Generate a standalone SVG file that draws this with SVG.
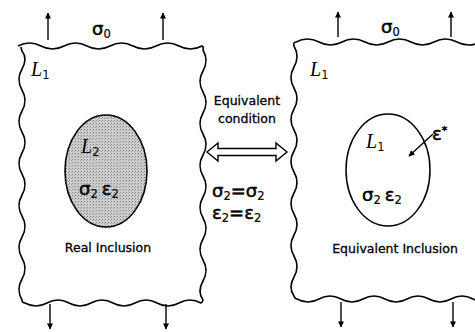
<svg xmlns="http://www.w3.org/2000/svg" width="475" height="332" viewBox="0 0 475 332">
<defs>
<marker id="ah" viewBox="0 0 10 10" refX="9" refY="5" markerWidth="8" markerHeight="6" orient="auto" markerUnits="userSpaceOnUse">
<path d="M0,0 L10,5 L0,10 Z" fill="#000"/>
</marker>
<pattern id="stip" width="3" height="3" patternUnits="userSpaceOnUse">
<rect width="3" height="3" fill="#cfcfcf"/>
<rect x="0" y="0" width="1" height="1" fill="#7a7a7a"/>
<rect x="2" y="1" width="1" height="1" fill="#a0a0a0"/>
</pattern>
</defs>
<style>
.edge{fill:none;stroke:#000;stroke-width:1.6}
.arr{stroke:#000;stroke-width:1.4;fill:none;marker-end:url(#ah)}
.lbl{font-family:"DejaVu Sans",sans-serif;font-size:12.5px;fill:#000;stroke:#000;stroke-width:0.3}
.mi{font-family:"Liberation Serif",serif;font-style:italic;font-size:20px;fill:#000}
.gr{font-family:"DejaVu Sans",sans-serif;font-size:18px;fill:#000;stroke:#000;stroke-width:0.5}
.sub{font-size:11.5px;font-style:normal;font-family:"DejaVu Sans",sans-serif;stroke-width:0.2}
</style>
<rect width="475" height="332" fill="#fff"/>

<g id="left-panel">
<path class="edge" d="M18,46 q11.5,-6 23,0 t23,0 t23,0 t23,0 t23,0 t23,0 t23,0 t23,0 q2,1 1,4 q6,10.5 0,21 t0,21 t0,21 t0,21 t0,21 t0,21 t0,21 t0,21 t0,21 t0,21 t0,21 t0,19 q-1,3 -2,3 q-11,-6 -22,0 t-22,0 t-22,0 t-22,0 t-22,0 t-22,0 t-22,0 t-22,0 q-3,0 -3,-3 q-6,-10.5 0,-21 t0,-21 t0,-21 t0,-21 t0,-21 t0,-21 t0,-21 t0,-21 t0,-21 t0,-21 t0,-21 t0,-18 q-1,-3 -1,-4"/>
<text class="mi" x="31" y="76">L<tspan class="sub" dy="3">1</tspan></text>
<text class="gr" x="92" y="35">σ<tspan class="sub" dy="3">0</tspan></text>
</g>

<g id="real-inclusion">
<ellipse cx="106" cy="171" rx="41" ry="56" fill="url(#stip)" stroke="#000" stroke-width="1.6"/>
<text class="mi" x="81" y="153">L<tspan class="sub" dy="3">2</tspan></text>
<text class="gr" x="79" y="195">σ<tspan class="sub" dy="3">2</tspan><tspan dy="-3" dx="4">ε</tspan><tspan class="sub" dy="3">2</tspan></text>
<text class="lbl" x="108" y="252" text-anchor="middle">Real Inclusion</text>
</g>

<g id="right-panel">
<path class="edge" d="M480,42 q-11.5,6 -23,0 t-23,0 t-23,0 t-23,0 t-23,0 t-23,0 t-23,0 t-23,0 q-3,0 -2,4 q6,10.5 0,21 t0,21 t0,21 t0,21 t0,21 t0,21 t0,21 t0,21 t0,21 t0,21 t0,21 t0,19 q1,3 3,3 q11,6 22,0 t22,0 t22,0 t22,0 t22,0 t22,0 t22,0 t22,0 t22,0"/>
<text class="mi" x="310" y="76">L<tspan class="sub" dy="3">1</tspan></text>
<text class="gr" x="381" y="33">σ<tspan class="sub" dy="3">0</tspan></text>
</g>

<g id="equivalent-inclusion">
<ellipse cx="388" cy="170" rx="42" ry="56" fill="none" stroke="#000" stroke-width="1.5"/>
<text class="mi" x="366" y="148">L<tspan class="sub" dy="3">1</tspan></text>
<text class="gr" x="362" y="201">σ<tspan class="sub" dy="3">2</tspan><tspan dy="-3" dx="4">ε</tspan><tspan class="sub" dy="3">2</tspan></text>
<text class="gr" x="432" y="140">ε<tspan font-size="11" dy="-6">*</tspan></text>
<text class="lbl" x="395" y="253" text-anchor="middle">Equivalent Inclusion</text>
</g>

<g id="condition">
<text class="lbl" x="247" y="105" text-anchor="middle">Equivalent</text>
<text class="lbl" x="247" y="123" text-anchor="middle">condition</text>
<polygon points="207,152 218,143 218,148.5 276,148.5 276,143 287,152 276,161 276,155.5 218,155.5 218,161" fill="#fff" stroke="#000" stroke-width="1.4"/>
<text class="gr" x="212" y="197">σ<tspan class="sub" dy="3">2</tspan><tspan dy="-3">=σ</tspan><tspan class="sub" dy="3">2</tspan></text>
<text class="gr" x="212" y="219">ε<tspan class="sub" dy="3">2</tspan><tspan dy="-3">=ε</tspan><tspan class="sub" dy="3">2</tspan></text>
</g>

<g id="connectors">
<line class="arr" x1="48" y1="40" x2="48" y2="13"/>
<line class="arr" x1="163" y1="40" x2="163" y2="13"/>
<line class="arr" x1="338" y1="37" x2="338" y2="12"/>
<line class="arr" x1="451" y1="37" x2="451" y2="12"/>
<line class="arr" x1="50" y1="304" x2="50" y2="329"/>
<line class="arr" x1="166" y1="304" x2="166" y2="329"/>
<line class="arr" x1="341" y1="302" x2="341" y2="327"/>
<line class="arr" x1="453" y1="302" x2="453" y2="327"/>
<line class="arr" x1="433" y1="134" x2="409" y2="156"/>
</g>
</svg>
